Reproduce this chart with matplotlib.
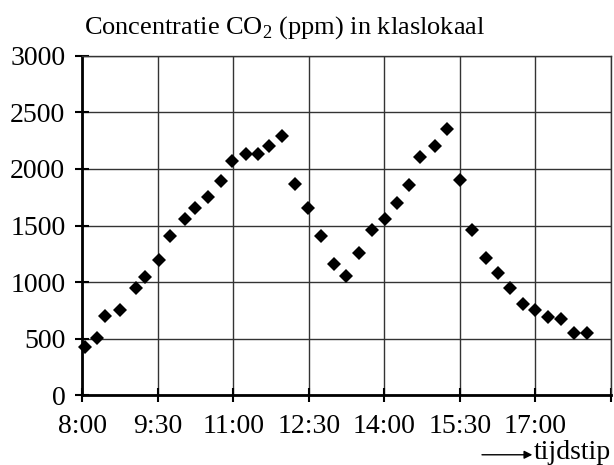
import matplotlib
matplotlib.use("Agg")
import matplotlib.pyplot as plt

plt.rcParams['font.family'] = ['Liberation Serif', 'DejaVu Serif']
plt.rcParams['mathtext.fontset'] = 'custom'
plt.rcParams['mathtext.rm'] = 'Liberation Serif'

# Data
times = ["8:04", "8:18", "8:27", "8:45", "9:04", "9:15", "9:32", "9:45", "10:03",
         "10:15", "10:30", "10:45", "10:59", "11:15", "11:30", "11:43", "11:58",
         "12:14", "12:29", "12:45", "13:00", "13:15", "13:30", "13:45", "14:01",
         "14:15", "14:30", "14:43", "15:01", "15:15", "15:30", "15:45", "16:01",
         "16:16", "16:30", "16:45", "17:00", "17:15", "17:31", "17:46", "18:01"]
co2 = [425, 504, 700, 752, 947, 1044, 1195, 1410, 1557,
       1652, 1754, 1893, 2072, 2132, 2130, 2205, 2293,
       1867, 1657, 1412, 1157, 1054, 1254, 1460, 1557,
       1701, 1858, 2108, 2202, 2350, 1902, 1460, 1210,
       1083, 945, 806, 754, 694, 674, 553, 553]
xtick_labels = ["8:00", "9:30", "11:00", "12:30", "14:00", "15:30", "17:00", ""]
yticks = [0, 500, 1000, 1500, 2000, 2500, 3000]


def to_min(t):
    h, m = t.split(":")
    return (int(h) - 8) * 60 + int(m)


xs = [to_min(t) for t in times]
xticks = [to_min(t) for t in ["8:00", "9:30", "11:00", "12:30",
                              "14:00", "15:30", "17:00", "18:30"]]

fig = plt.figure(figsize=(6.14, 4.65), dpi=100)
ax = fig.add_axes([0.1336, 0.1495, 0.8614, 0.7306])

ax.plot(xs, co2, linestyle='none', marker='D', markersize=7, color='black',
        markeredgewidth=0, zorder=3, clip_on=False)

ax.set_xlim(0, 630)
ax.set_ylim(0, 3000)
ax.set_xticks(xticks)
ax.set_xticklabels(xtick_labels)
ax.set_yticks(yticks)
ax.grid(True, color='#333333', linewidth=1.0)
ax.set_axisbelow(True)

for s in ['top', 'right']:
    ax.spines[s].set_linewidth(1.0)
    ax.spines[s].set_color('#333333')
for s in ['left', 'bottom']:
    ax.spines[s].set_linewidth(2.0)
    ax.spines[s].set_color('black')

ax.tick_params(axis='both', direction='inout', length=10, width=1.5,
               labelsize=20, colors='black')
ax.tick_params(axis='y', pad=7)
ax.tick_params(axis='x', pad=8)

fig.text(0.137, 0.94, "Concentratie CO$_2$ (ppm) in klaslokaal", fontsize=19,
         ha='left', va='center')

fig.text(0.995, 0.027, "tijdstip", fontsize=20, ha='right', va='center')
ax.annotate("", xy=(0.867, 0.022), xycoords='figure fraction',
            xytext=(0.785, 0.022), textcoords='figure fraction',
            arrowprops=dict(arrowstyle='-|>', color='black', lw=1.0,
                            mutation_scale=12, shrinkA=0, shrinkB=0))

fig.savefig("out.png", dpi=100)
